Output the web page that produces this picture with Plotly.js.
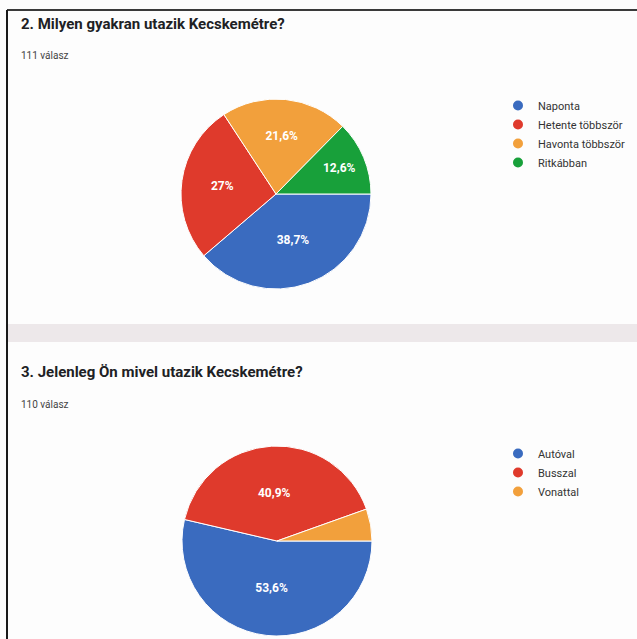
<!DOCTYPE html>
<html><head><meta charset="utf-8">
<script src="https://cdn.plot.ly/plotly-3.0.1.min.js"></script>
<style>html,body{margin:0;padding:0;background:#fff}#chart{width:637px;height:639px}</style>
</head><body><div id="chart"></div>
<script>
// ---- data ----
const title1 = '2. Milyen gyakran utazik Kecskemétre?';
const subtitle1 = '111 válasz';
const labels1 = ['Naponta', 'Hetente többször', 'Havonta többször', 'Ritkábban'];
const values1 = [43, 30, 24, 14];
const colors1 = ['#3a6bbf', '#df3a2c', '#f2a03c', '#18a03a'];

const title2 = '3. Jelenleg Ön mivel utazik Kecskemétre?';
const subtitle2 = '110 válasz';
const labels2 = ['Autóval', 'Busszal', 'Vonattal'];
const values2 = [59, 45, 6];
const colors2 = ['#3a6bbf', '#df3a2c', '#f2a03c'];

// ---- helpers ----
const W = 637, H = 639;
const px = x => x / W;
const py = y => 1 - y / H;
const FONT = 'Roboto, Arial, sans-serif';

function pctLabels(values) {
  const total = values.reduce((a, b) => a + b, 0);
  return values.map(v => {
    const p = v / total * 100;
    if (p < 10) return '';
    return (Math.round(p * 10) / 10).toString().replace('.', ',') + '%';
  });
}

function pieTrace(labels, values, colors, dom) {
  return {
    type: 'pie', labels: labels, values: values, sort: false,
    direction: 'clockwise', rotation: 90,
    marker: {colors: colors, line: {color: '#ffffff', width: 1}},
    text: pctLabels(values),
    textinfo: 'text',
    textposition: 'inside', insidetextorientation: 'horizontal',
    textfont: {color: '#ffffff', size: 12, family: FONT, weight: 'bold'},
    domain: dom, showlegend: false, hoverinfo: 'label+percent'
  };
}
function legendTraces(labels, colors, legendId) {
  return labels.map((l, i) => ({
    type: 'scatter', mode: 'markers', x: [null], y: [null], name: l,
    marker: {color: colors[i], size: 10, symbol: 'circle'},
    legend: legendId, showlegend: true, hoverinfo: 'skip'
  }));
}

const data = [
  pieTrace(labels1, values1, colors1, {x: [px(181), px(371)], y: [py(289), py(99)]}),
  pieTrace(labels2, values2, colors2, {x: [px(182), px(372)], y: [py(636), py(446)]}),
  ...legendTraces(labels1, colors1, 'legend'),
  ...legendTraces(labels2, colors2, 'legend2')
];

const legendBase = {
  xanchor: 'left', yanchor: 'top', bgcolor: 'rgba(0,0,0,0)',
  font: {size: 11, family: FONT, color: '#333333'}, itemclick: false
};

const layout = {
  width: W, height: H,
  margin: {l: 0, r: 0, t: 0, b: 0},
  paper_bgcolor: '#fdfdfd', plot_bgcolor: 'rgba(0,0,0,0)',
  separators: ', ',
  xaxis: {visible: false, fixedrange: true},
  yaxis: {visible: false, fixedrange: true},
  legend: Object.assign({x: px(498), y: py(91)}, legendBase),
  legend2: Object.assign({x: px(498), y: py(439)}, legendBase),
  shapes: [
    {type: 'rect', xref: 'paper', yref: 'paper', x0: px(7), x1: 1, y0: py(342), y1: py(324),
     fillcolor: '#ede8ea', line: {width: 0}, layer: 'below'},
    {type: 'line', xref: 'paper', yref: 'paper', x0: px(7), x1: 1, y0: py(10), y1: py(10),
     line: {color: '#3a3a3a', width: 2}},
    {type: 'line', xref: 'paper', yref: 'paper', x0: px(7), x1: px(7), y0: 0, y1: py(10),
     line: {color: '#1a1a1a', width: 2}}
  ],
  annotations: [
    {text: '<b>' + title1 + '</b>', x: px(19), y: py(24), xref: 'paper', yref: 'paper',
     xanchor: 'left', yanchor: 'middle', showarrow: false, font: {size: 15, family: FONT, color: '#202124'}},
    {text: subtitle1, x: px(19), y: py(55), xref: 'paper', yref: 'paper',
     xanchor: 'left', yanchor: 'middle', showarrow: false, font: {size: 10, family: FONT, color: '#444444'}},
    {text: '<b>' + title2 + '</b>', x: px(19), y: py(372), xref: 'paper', yref: 'paper',
     xanchor: 'left', yanchor: 'middle', showarrow: false, font: {size: 15, family: FONT, color: '#202124'}},
    {text: subtitle2, x: px(19), y: py(404), xref: 'paper', yref: 'paper',
     xanchor: 'left', yanchor: 'middle', showarrow: false, font: {size: 10, family: FONT, color: '#444444'}}
  ]
};

Plotly.newPlot('chart', data, layout, {displayModeBar: false, staticPlot: true});
</script>
</body></html>
